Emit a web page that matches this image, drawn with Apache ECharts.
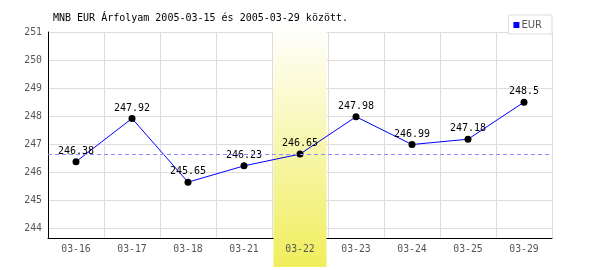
<!DOCTYPE html>
<html><head><meta charset="utf-8">
<script src="https://cdn.jsdelivr.net/npm/echarts@6/dist/echarts.min.js"></script>
<style>html,body{margin:0;padding:0;background:#fff}#c{width:600px;height:270px}</style>
</head><body><div id="c"></div>
<script>
var categories = ['03-16','03-17','03-18','03-21','03-22','03-23','03-24','03-25','03-29'];
var eurValues = [246.38, 247.92, 245.65, 246.23, 246.65, 247.98, 246.99, 247.18, 248.5];
var highlightCategory = '03-22';
var referenceValue = 246.65;
var titleText = 'MNB EUR Árfolyam 2005-03-15 és 2005-03-29 között.';
var seriesName = 'EUR';

var highlightData = categories.map(function(c){ return c === highlightCategory ? 1 : null; });
var mono = 'DejaVu Sans Mono';
var chart = echarts.init(document.getElementById('c'));
chart.setOption({
  animation: false,
  backgroundColor: '#fff',
  title: { text: titleText, left: 48, top: 8, textStyle: { fontFamily: mono, fontSize: 10, fontWeight: 'normal', color: '#000' } },
  legend: {
    right: 48, top: 15, padding: [5, 10, 4, 5], borderColor: '#ddd', borderWidth: 1, backgroundColor: '#fff',
    icon: 'rect', itemWidth: 6, itemHeight: 6, itemGap: 2,
    textStyle: { fontFamily: 'DejaVu Sans', fontSize: 10, color: '#555', padding: [0,0,0,-3] },
    data: [{ name: seriesName, itemStyle: { color: '#0000ff' } }]
  },
  grid: [
    { left: 48, right: 48, top: 32, bottom: 32 },
    { left: 48, right: 48, top: 25, bottom: 3 }
  ],
  xAxis: [
    { type: 'category', gridIndex: 0, data: categories, boundaryGap: true, z: 0,
      axisLine: { lineStyle: { color: '#000', width: 1 } }, axisTick: { show: false },
      axisLabel: { show: false },
      splitLine: { show: true, lineStyle: { color: '#ddd', width: 1 } } },
    { type: 'category', gridIndex: 0, data: categories, boundaryGap: true, position: 'bottom', z: 5,
      axisLine: { show: false }, axisTick: { show: false }, splitLine: { show: false },
      axisLabel: { fontFamily: mono, fontSize: 9.8, color: '#555', margin: 6 } },
    { type: 'category', gridIndex: 1, data: categories, boundaryGap: true, show: false }
  ],
  yAxis: [
    { type: 'value', gridIndex: 0, min: 243.66, max: 251, splitNumber: 7,
      axisLine: { show: true, lineStyle: { color: '#000', width: 1 } }, axisTick: { show: false },
      axisLabel: { fontFamily: mono, fontSize: 9.8, color: '#555', margin: 6, showMinLabel: false,
        formatter: function(v){ return Math.abs(v - Math.round(v)) < 1e-6 ? String(Math.round(v)) : ''; } },
      splitLine: { show: true, lineStyle: { color: '#ddd', width: 1 } } },
    { type: 'value', gridIndex: 1, min: 0, max: 1, show: false }
  ],
  series: [
    { type: 'bar', xAxisIndex: 2, yAxisIndex: 1, data: highlightData, barWidth: 53, z: 1, silent: true,
      itemStyle: { color: new echarts.graphic.LinearGradient(0, 0, 0, 1, [
        { offset: 0, color: '#ffffff' }, { offset: 1, color: '#f0ee5c' }]) } },
    { type: 'line', name: seriesName, xAxisIndex: 0, yAxisIndex: 0, data: eurValues, z: 3,
      symbol: 'circle', symbolSize: 7,
      lineStyle: { color: '#0000ff', width: 1 }, itemStyle: { color: '#000' },
      label: { show: true, position: 'top', distance: 2, fontFamily: mono, fontSize: 10, color: '#000' },
      markLine: { silent: true, symbol: ['none','none'], label: { show: false },
        lineStyle: { color: '#8c8cff', type: [4, 3], width: 1 }, data: [{ yAxis: referenceValue }] } }
  ]
});
</script></body></html>
